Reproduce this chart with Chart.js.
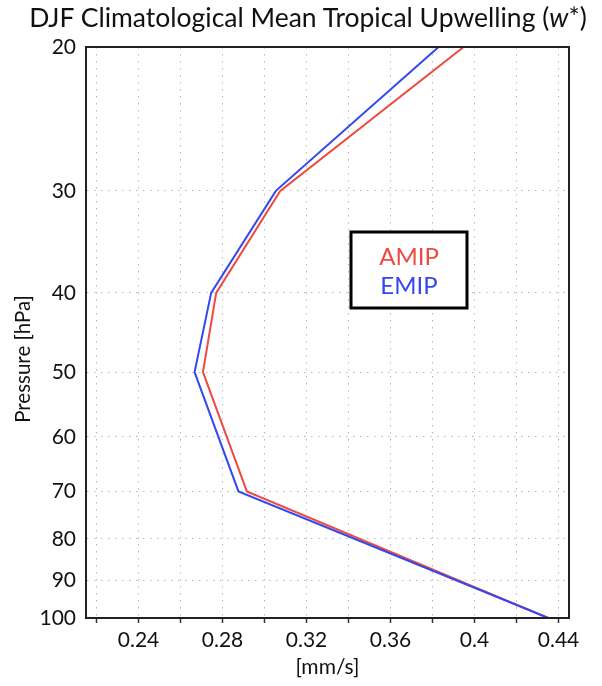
<!DOCTYPE html>
<html><head><meta charset="utf-8">
<script src="https://cdn.jsdelivr.net/npm/chart.js@4/dist/chart.umd.min.js"></script>
<style>
html,body{margin:0;padding:0;background:#fff;}
#wrap{position:relative;width:602px;height:686px;}
#title{position:absolute;left:0;top:1px;width:616px;text-align:center;font-family:Lato,"Noto Sans",sans-serif;font-size:26.5px;color:#111;white-space:nowrap;}
canvas{display:block;}
</style></head><body>
<div id="wrap"><div id="title">DJF Climatological Mean Tropical Upwelling (<i>w</i>*)</div><canvas id="c" width="602" height="686"></canvas></div>
<script>
const pressure = [20, 30, 40, 50, 70, 100];
const amip = [0.3948, 0.3075, 0.2770, 0.2707, 0.2916, 0.4350];
const emip = [0.3829, 0.3054, 0.2746, 0.2667, 0.2876, 0.4352];
const pressureTicks = [20, 30, 40, 50, 60, 70, 80, 90, 100];
const xGridTicks = [0.22, 0.24, 0.26, 0.28, 0.30, 0.32, 0.34, 0.36, 0.38, 0.40, 0.42, 0.44];
const xLabelValues = [0.24, 0.28, 0.32, 0.36, 0.40, 0.44];
const xLabelTexts = ['0.24', '0.28', '0.32', '0.36', '0.4', '0.44'];
const seriesNames = ['AMIP', 'EMIP'];
const seriesColors = ['#ee4a42', '#3347ee'];
const FONT = 'Lato, "Noto Sans", sans-serif';

const frame = {
  id: 'frame',
  afterDatasetsDraw(chart) {
    const {ctx, chartArea: a} = chart;
    ctx.save();
    ctx.strokeStyle = '#222';
    ctx.lineWidth = 2;
    ctx.strokeRect(a.left, a.top, a.right - a.left, a.bottom - a.top);
    ctx.restore();
  },
  afterDraw(chart) {
    const ctx = chart.ctx;
    ctx.save();
    ctx.translate(23, 359);
    ctx.rotate(-Math.PI / 2);
    ctx.fillStyle = '#111';
    ctx.font = '20.5px ' + FONT;
    ctx.textAlign = 'center';
    ctx.textBaseline = 'middle';
    ctx.fillText('Pressure [hPa]', 0, 0);
    ctx.restore();
    ctx.save();
    ctx.strokeStyle = '#000';
    ctx.lineWidth = 3;
    ctx.fillStyle = '#fff';
    ctx.fillRect(351, 232, 116, 76);
    ctx.strokeRect(351, 232, 116, 76);
    ctx.font = '24px ' + FONT;
    ctx.textAlign = 'center';
    ctx.textBaseline = 'middle';
    chart.data.datasets.forEach((d, i) => {
      ctx.fillStyle = d.borderColor;
      ctx.fillText(d.label, 409, 257 + i * 29);
    });
    ctx.restore();
  }
};

const toPts = (xs) => pressure.map((p, i) => ({x: xs[i], y: p}));

new Chart(document.getElementById('c'), {
  type: 'line',
  data: {
    datasets: [
      {label: seriesNames[0], data: toPts(amip), borderColor: seriesColors[0], borderWidth: 2, pointRadius: 0, tension: 0, fill: false, order: 1},
      {label: seriesNames[1], data: toPts(emip), borderColor: seriesColors[1], borderWidth: 2, pointRadius: 0, tension: 0, fill: false, order: 0}
    ]
  },
  options: {
    responsive: false,
    animation: false,
    devicePixelRatio: 1,
    layout: {padding: {top: 47, right: 33, left: 0, bottom: 0}},
    plugins: {legend: {display: false}, tooltip: {enabled: false}, title: {display: false}},
    scales: {
      x: {
        type: 'linear', min: 0.215, max: 0.445,
        afterBuildTicks: (s) => { s.ticks = xGridTicks.map(v => ({value: v})); },
        afterFit: (s) => { s.height = 68; },
        ticks: {
          autoSkip: false, maxRotation: 0, padding: 5, color: '#111',
          font: {family: FONT, size: 21},
          callback: (v) => { const i = xLabelValues.findIndex(t => Math.abs(t - v) < 1e-6); return i >= 0 ? xLabelTexts[i] : ''; }
        },
        grid: {color: '#b8b8b8', lineWidth: 1, tickColor: '#333', tickLength: 5, tickWidth: 1.5, tickBorderDash: []},
        border: {display: true, color: '#222', width: 2, dash: [1.5, 5.5]},
        title: {display: true, text: '[mm/s]', color: '#111', font: {family: FONT, size: 21}, padding: {top: 1, bottom: 6}}
      },
      y: {
        type: 'logarithmic', reverse: true, min: 20, max: 100,
        afterBuildTicks: (s) => { s.ticks = pressureTicks.map(v => ({value: v, major: false})); },
        afterFit: (s) => { s.width = 86; },
        ticks: {
          autoSkip: false, padding: 10, color: '#111',
          font: {family: FONT, size: 21},
          callback: (v) => String(v)
        },
        grid: {color: '#b8b8b8', lineWidth: 1, drawTicks: false},
        border: {display: true, color: '#222', width: 2, dash: [1.5, 5.5]}
      }
    }
  },
  plugins: [frame]
});
</script>
</body></html>
